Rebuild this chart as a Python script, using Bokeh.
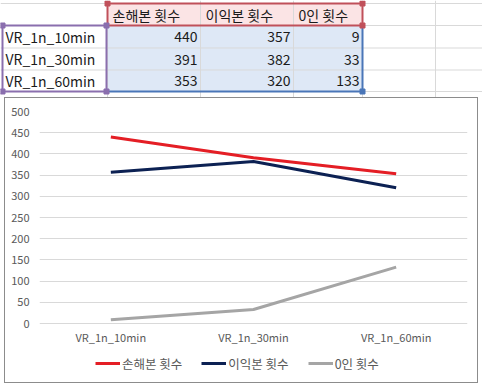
from bokeh.plotting import figure
from bokeh.models import (Legend, LegendItem, FactorRange, Range1d, FixedTicker, Spacer)
from bokeh.layouts import column, row
from bokeh.core.properties import value
from bokeh.embed import file_html
from bokeh.resources import INLINE

# ---------------- data ----------------
categories = ["VR_1n_10min", "VR_1n_30min", "VR_1n_60min"]
series_names = ["손해본 횟수", "이익본 횟수", "0인 횟수"]
loss_counts = [440, 391, 353]
profit_counts = [357, 382, 320]
zero_counts = [9, 33, 133]
y_ticks = [0, 50, 100, 150, 200, 250, 300, 350, 400, 450, 500]

FONT = value("Noto Sans CJK KR")
series_colors = ["#e41e25", "#0c2153", "#a5a5a5"]

# ---------------- spreadsheet part (table) ----------------
col_edges = [0, 107, 200, 293, 362, 435, 482]
row_edges = [3, 25, 47.5, 69.5, 91]
TH = 97
t = figure(width=482, height=TH, x_range=Range1d(0, 482), y_range=Range1d(TH, 0),
           output_backend="svg", toolbar_location=None, min_border=0)
t.axis.visible = False
t.grid.visible = False
t.outline_line_color = None

t.quad(left=[col_edges[1]], right=[col_edges[4]], top=[row_edges[0]], bottom=[row_edges[1]],
       fill_color="#fbe4e5", line_color=None)
t.quad(left=[col_edges[1]], right=[col_edges[4]], top=[row_edges[1]], bottom=[row_edges[4]],
       fill_color="#dee8f6", line_color=None)
gx = col_edges[1:-1]
t.segment(x0=gx, y0=[0] * len(gx), x1=gx, y1=[TH] * len(gx), line_color="#d9d9d9", line_width=1)
gy = row_edges
t.segment(x0=[0] * len(gy), y0=gy, x1=[482] * len(gy), y1=gy, line_color="#d9d9d9", line_width=1)

purple, red, blue = "#8a6fae", "#c0505a", "#4a76b8"
t.quad(left=[2], right=[col_edges[1] - 1], top=[row_edges[1]], bottom=[row_edges[4]],
       fill_color=None, line_color=purple, line_width=2)
t.quad(left=[col_edges[1]], right=[col_edges[4]], top=[row_edges[0]], bottom=[row_edges[1]],
       fill_color=None, line_color=red, line_width=2)
t.segment(x0=[col_edges[4], col_edges[1]], y0=[row_edges[1], row_edges[4]],
          x1=[col_edges[4], col_edges[4]], y1=[row_edges[4], row_edges[4]],
          line_color=blue, line_width=2)
t.scatter(x=[2, col_edges[1] - 1, 2, col_edges[1] - 1],
          y=[row_edges[1], row_edges[1], row_edges[4], row_edges[4]],
          marker="square", size=5, color=purple)
t.scatter(x=[col_edges[1], col_edges[4], col_edges[4]],
          y=[row_edges[0], row_edges[0], row_edges[1]],
          marker="square", size=5, color=red)
t.scatter(x=[col_edges[4]], y=[row_edges[4]], marker="square", size=5, color=blue)

t.text(x=[c + 5 for c in col_edges[1:4]], y=[(row_edges[0] + row_edges[1]) / 2] * 3,
       text=series_names, text_font=FONT, text_font_size="14px", text_color="#1a1a1a",
       text_align="left", text_baseline="middle")
row_mid = [(row_edges[i] + row_edges[i + 1]) / 2 for i in range(1, 4)]
t.text(x=[5] * 3, y=row_mid, text=categories, text_font=FONT, text_font_size="14px",
       text_color="#1a1a1a", text_align="left", text_baseline="middle")
for j, vals in enumerate([loss_counts, profit_counts, zero_counts]):
    t.text(x=[col_edges[j + 2] - 3] * 3, y=row_mid, text=[str(v) for v in vals],
           text_font=FONT, text_font_size="14px", text_color="#1a1a1a",
           text_align="right", text_baseline="middle")

# ---------------- chart ----------------
Y_MAX = y_ticks[-1]
DATA_PX = 212    # screen px between 0 and 500
BELOW_PX = 59    # screen px kept under the 0 line for category labels and legend
y_start = -Y_MAX * BELOW_PX / DATA_PX

p = figure(width=474, height=286, x_range=FactorRange(*categories), y_range=Range1d(y_start, Y_MAX),
           output_backend="svg", toolbar_location=None,
           min_border_left=34, min_border_right=12, min_border_top=13, min_border_bottom=2,
           styles={"border": "1px solid #8c8c8c"})
p.outline_line_color = None
p.xgrid.grid_line_color = None
p.ygrid.grid_line_color = "#d9d9d9"
p.yaxis.ticker = FixedTicker(ticks=y_ticks)
p.ygrid.ticker = FixedTicker(ticks=y_ticks)
for ax in (p.xaxis[0], p.yaxis[0]):
    ax.axis_line_color = None
    ax.major_tick_line_color = None
    ax.minor_tick_line_color = None
    ax.major_tick_out = 0
    ax.major_tick_in = 0
    ax.major_label_text_font = "Noto Sans CJK KR"
    ax.major_label_text_font_size = "11px"
    ax.major_label_text_color = "#595959"
p.yaxis.major_label_standoff = 10
p.xaxis.major_label_standoff = 5
p.xaxis.fixed_location = 0

renderers = []
for vals, col in zip([loss_counts, profit_counts, zero_counts], series_colors):
    r = p.line(x=categories, y=vals, line_color=col, line_width=3)
    renderers.append(r)

legend = Legend(items=[LegendItem(label=n, renderers=[r]) for n, r in zip(series_names, renderers)],
                orientation="horizontal", location=(56, 9),
                border_line_color=None, background_fill_alpha=0,
                glyph_width=25, label_standoff=2, spacing=19,
                label_text_font="Noto Sans CJK KR", label_text_font_size="12.5px",
                label_text_color="#595959", padding=0, margin=0)
p.add_layout(legend, "center")

layout = column(t, row(Spacer(width=4, height=10), p))
open("out.html", "w").write(file_html(layout, INLINE))
